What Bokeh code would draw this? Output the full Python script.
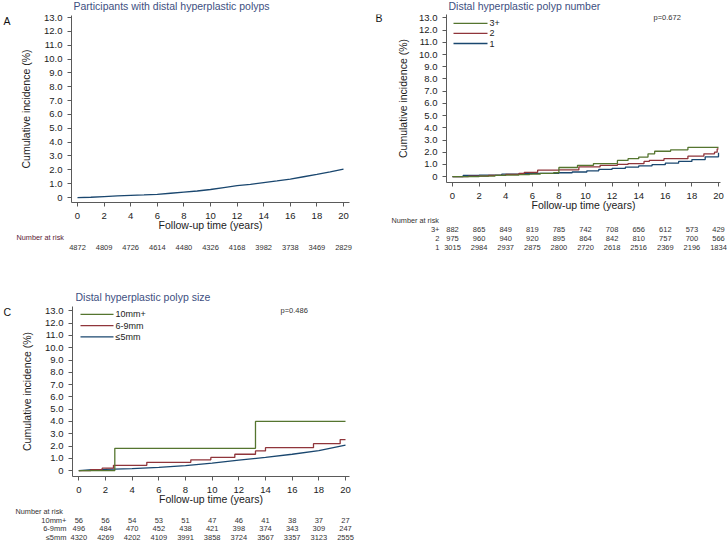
from bokeh.plotting import figure
from bokeh.models import Range1d, FixedTicker
from bokeh.layouts import column, row
from bokeh.embed import file_html
from bokeh.resources import INLINE
from bokeh.core.properties import value

FONT = "Liberation Sans"
NAVY = "#1a476f"
MAROON = "#90353b"
GREEN = "#55752f"
TITLE_C = "#3d4f7f"
TXT = "#222222"
AXC = "#5a5a5a"

# ---------------- data ----------------
tick_years = [0, 2, 4, 6, 8, 10, 12, 14, 16, 18, 20]
y_ticks = list(range(14))

# Panel A: all participants
a_title = "Participants with distal hyperplastic polyps"
a_time = list(range(21))
a_cum = [0.0, 0.02, 0.07, 0.12, 0.16, 0.19, 0.23, 0.31, 0.39, 0.47, 0.58,
         0.72, 0.86, 0.95, 1.08, 1.20, 1.33, 1.50, 1.67, 1.85, 2.05]
a_risk = [4872, 4809, 4726, 4614, 4480, 4326, 4168, 3982, 3738, 3469, 2829]

# Panel B: polyp number
b_title = "Distal hyperplastic polyp number"
b3_time = [0, 2.0, 3.2, 4.0, 5.0, 5.8, 6.6, 7.6, 8.0, 9.4, 10.6, 12.4, 13.2, 14.0, 14.7, 15.2, 16.4, 17.7, 20.0]
b3_cum = [0, 0.05, 0.10, 0.13, 0.17, 0.20, 0.27, 0.32, 0.75, 0.93, 1.07, 1.33, 1.47, 1.60, 1.87, 2.08, 2.20, 2.40, 2.40]
b2_time = [0, 1.2, 2.7, 4.0, 5.0, 5.4, 6.4, 8.0, 9.5, 11.1, 12.4, 13.2, 14.4, 14.8, 15.9, 17.7, 18.9, 19.7, 19.9, 20.0]
b2_cum = [0, 0.04, 0.10, 0.18, 0.27, 0.35, 0.53, 0.56, 0.80, 0.93, 1.00, 1.07, 1.25, 1.33, 1.47, 1.68, 1.87, 2.00, 2.27, 2.27]
b1_time = [0, 0.8, 2, 3.7, 5, 6, 8, 9, 10.1, 11, 12, 13, 14, 15, 16, 17, 18, 19, 20]
b1_cum = [0, 0.10, 0.13, 0.20, 0.24, 0.27, 0.32, 0.38, 0.48, 0.60, 0.68, 0.78, 0.88, 0.98, 1.10, 1.25, 1.40, 1.62, 1.95]
b_labels = ["3+", "2", "1"]
b_risk3 = [882, 865, 849, 819, 785, 742, 708, 656, 612, 573, 429]
b_risk2 = [975, 960, 940, 920, 895, 864, 842, 810, 757, 700, 566]
b_risk1 = [3015, 2984, 2937, 2875, 2800, 2720, 2618, 2516, 2369, 2196, 1834]
b_p = "p=0.672"

# Panel C: polyp size
c_title = "Distal hyperplastic polyp size"
c10_time = [0, 2.7, 13.25, 20.0]
c10_cum = [0, 1.81, 4.00, 4.00]
c69_time = [0, 0.9, 1.75, 2.6, 5.1, 8.4, 9.9, 11.7, 13.25, 14.0, 17.6, 19.6, 20.0]
c69_cum = [0, 0.08, 0.20, 0.43, 0.67, 0.88, 1.07, 1.33, 1.60, 1.87, 2.19, 2.53, 2.53]
c5_time = [0, 1, 2, 4, 6, 8, 10, 12, 14, 16, 18, 20]
c5_cum = [0, 0.08, 0.10, 0.16, 0.27, 0.40, 0.61, 0.85, 1.07, 1.33, 1.63, 2.08]
c_labels = ["10mm+", "6-9mm", "\u22645mm"]
c_risk10 = [56, 56, 54, 53, 51, 47, 46, 41, 38, 37, 27]
c_risk69 = [496, 484, 470, 452, 438, 421, 398, 374, 343, 309, 247]
c_risk5 = [4320, 4269, 4202, 4109, 3991, 3858, 3724, 3567, 3357, 3123, 2555]
c_p = "p=0.486"


# ---------------- helpers ----------------
def blank(W, H):
    f = figure(width=W, height=H, output_backend="svg", toolbar_location=None,
               x_range=Range1d(0, W), y_range=Range1d(H, 0),
               x_axis_location=None, y_axis_location=None,
               min_border=0, min_border_left=0, min_border_right=0,
               min_border_top=0, min_border_bottom=0)
    f.outline_line_color = None
    f.grid.visible = False
    return f


def text_fig(W, H, txt, x, y, size, color):
    f = blank(W, H)
    f.text(x=[x], y=[y], text=[txt], text_font=value(FONT), text_font_size=value(size),
           text_color=color, text_align="left", text_baseline="middle")
    return f


def make_plot(W, H, fl, fr, ft, fb, tx0, ppy, py0, ppu, ylab_standoff):
    p = figure(width=W, height=H, output_backend="svg", toolbar_location=None,
               x_range=Range1d((fl - tx0) / ppy, (fr - tx0) / ppy),
               y_range=Range1d((py0 - fb) / ppu, (py0 - ft) / ppu),
               min_border_left=fl, min_border_right=W - fr,
               min_border_top=ft, min_border_bottom=H - fb)
    p.outline_line_color = None
    p.grid.visible = False
    p.background_fill_color = "white"
    p.xaxis.ticker = FixedTicker(ticks=tick_years)
    p.yaxis.ticker = FixedTicker(ticks=y_ticks)
    p.yaxis.major_label_overrides = {i: ("0" if i == 0 else f"{i}.0") for i in y_ticks}
    p.xaxis.axis_label = "Follow-up time (years)"
    p.yaxis.axis_label = "Cumulative incidence (%)"
    for ax in (p.xaxis, p.yaxis):
        ax.axis_line_color = AXC
        ax.major_tick_line_color = AXC
        ax.minor_tick_line_color = None
        ax.major_tick_in = 0
        ax.major_tick_out = 4
        ax.major_label_text_font = FONT
        ax.major_label_text_font_size = "9.5px"
        ax.major_label_text_color = TXT
        ax.axis_label_text_font = FONT
        ax.axis_label_text_font_size = "10.5px"
        ax.axis_label_text_font_style = "normal"
        ax.axis_label_text_color = TXT
    p.xaxis.major_label_standoff = 6
    p.xaxis.axis_label_standoff = -3
    p.yaxis.major_label_standoff = 5
    p.yaxis.axis_label_standoff = ylab_standoff
    return p


def p_text(p, txt, px, py, tx0, ppy, py0, ppu):
    p.text(x=[(px - tx0) / ppy], y=[(py0 - py) / ppu], text=[txt],
           text_font=value(FONT), text_font_size=value("7.5px"), text_color="#333333",
           text_align="left", text_baseline="middle")


def key_rows(p, labels, colors, tx0, ppy, py0, ppu, x0px, x1px, labpx, centers):
    # legend key: a short line in the series colour and its label, one row per series
    for lab, col, yc in zip(labels, colors, centers):
        yv = (py0 - yc) / ppu
        p.segment(x0=[(x0px - tx0) / ppy], y0=[yv], x1=[(x1px - tx0) / ppy], y1=[yv],
                  line_color=col, line_width=1.3)
        p.text(x=[(labpx - tx0) / ppy], y=[yv], text=[lab],
               text_font=value(FONT), text_font_size=value("9px"), text_color=TXT,
               text_align="left", text_baseline="middle")


def make_table(W, H, tx0, ppy, r0, rp, header_px, header_color, rows, label_right_px):
    t = figure(width=W, height=H, output_backend="svg", toolbar_location=None,
               x_range=Range1d(-tx0 / ppy, (W - tx0) / ppy),
               y_range=Range1d((H - r0) / rp, -r0 / rp),
               x_axis_location=None, y_axis_location=None,
               min_border=0, min_border_left=0, min_border_right=0,
               min_border_top=0, min_border_bottom=0)
    t.outline_line_color = None
    t.grid.visible = False
    t.text(x=[(header_px - tx0) / ppy], y=[0], text=["Number at risk"],
           text_font=value(FONT), text_font_size=value("7.3px"), text_color=header_color,
           text_align="left", text_baseline="middle")
    for k, (lab, vals) in enumerate(rows, start=1):
        if lab:
            t.text(x=[(label_right_px - tx0) / ppy], y=[k], text=[lab],
                   text_font=value(FONT), text_font_size=value("7.5px"), text_color="#333333",
                   text_align="right", text_baseline="middle")
        t.text(x=tick_years, y=[k] * len(tick_years), text=[str(v) for v in vals],
               text_font=value(FONT), text_font_size=value("7.5px"), text_color="#333333",
               text_align="center", text_baseline="middle")
    return t


# ---------------- panel A ----------------
hA = text_fig(360, 12, a_title, 73, 5.5, "10.5px", TITLE_C)
lA = text_fig(12, 221, "A", 3, 6, "10.5px", "#111111")
A = dict(tx0=65, ppy=13.3, py0=186, ppu=13.92)
pA = make_plot(348, 221, 59, 337, 3, 191, A["tx0"], A["ppy"], A["py0"], A["ppu"], 9)
pA.line(a_time, a_cum, line_color=NAVY, line_width=1.3)
tA = make_table(360, 43, 77, 13.3, 4, 10, 16, "#5a2236", [("", a_risk)], 0)
colA = column(hA, row(lA, pA), tA)

# ---------------- panel B ----------------
hB = text_fig(367, 13, b_title, 88, 5.5, "10.5px", TITLE_C)
lB = text_fig(25, 200, "B", 15, 4, "10.5px", "#111111")
B = dict(tx0=67, ppy=13.3, py0=167, ppu=12.5)
pB = make_plot(342, 200, 61, 335, 1, 173, B["tx0"], B["ppy"], B["py0"], B["ppu"], 7)
pB.step(b1_time, b1_cum, mode="after", line_color=NAVY, line_width=1.3)
pB.step(b2_time, b2_cum, mode="after", line_color=MAROON, line_width=1.3)
pB.step(b3_time, b3_cum, mode="after", line_color=GREEN, line_width=1.3)
key_rows(pB, b_labels, [GREEN, MAROON, NAVY], B["tx0"], B["ppy"], B["py0"], B["ppu"],
         68, 102, 104, [10, 20.3, 30.7])
p_text(pB, b_p, 268, 4.5, B["tx0"], B["ppy"], B["py0"], B["ppu"])
tB = make_table(367, 63, 92, 13.3, 6.5, 9, 31, "#333333",
                [(b_labels[0], b_risk3), (b_labels[1], b_risk2), (b_labels[2], b_risk1)], 79)
colB = column(hB, row(lB, pB), tB)

# ---------------- panel C ----------------
hC = text_fig(360, 27, c_title, 75, 20, "10.5px", TITLE_C)
lC = text_fig(12, 204, "C", 3, 7, "10.5px", "#111111")
C = dict(tx0=66.3, ppy=13.335, py0=170, ppu=12.5)
pC = make_plot(348, 204, 60, 337, 3, 176, C["tx0"], C["ppy"], C["py0"], C["ppu"], 9)
pC.line(c5_time, c5_cum, line_color=NAVY, line_width=1.3)
pC.step(c69_time, c69_cum, mode="after", line_color=MAROON, line_width=1.3)
pC.step(c10_time, c10_cum, mode="after", line_color=GREEN, line_width=1.3)
key_rows(pC, c_labels, [GREEN, MAROON, NAVY], C["tx0"], C["ppy"], C["py0"], C["ppu"],
         68, 101, 103, [11, 22.5, 34])
p_text(pC, c_p, 268, 7, C["tx0"], C["ppy"], C["py0"], C["ppu"])
tC = make_table(360, 35, 78.3, 13.335, 4, 8.7, 15, "#333333",
                [(c_labels[0], c_risk10), (c_labels[1], c_risk69), (c_labels[2], c_risk5)], 66)
colC = column(hC, row(lC, pC), tC)

layout = column(row(colA, colB), colC)
open("out.html", "w").write(file_html(layout, INLINE))
